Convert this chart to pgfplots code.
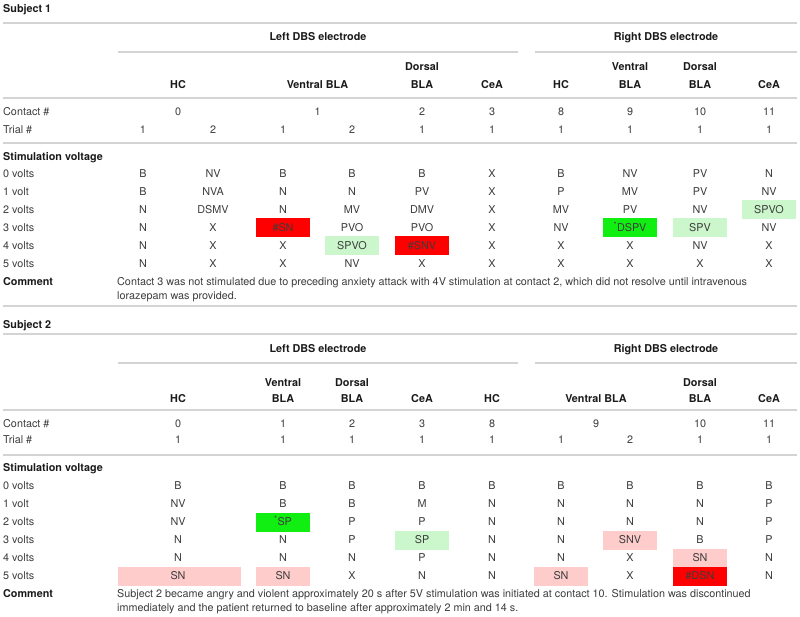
\documentclass[border=0pt]{standalone}
\usepackage{fontspec}
\setmainfont{TeX Gyre Heros}
\usepackage{pgfplots}
\pgfplotsset{compat=1.18}
\definecolor{txtc}{HTML}{3C3C3C}
\definecolor{boldc}{HTML}{1A1A1A}
\definecolor{rulec}{HTML}{D4D4D4}
\definecolor{cred}{HTML}{FF0000}
\definecolor{cgreen}{HTML}{11EE11}
\definecolor{clgreen}{HTML}{CCF7CC}
\definecolor{cpink}{HTML}{FFCCCC}
\newcommand\fsz{\fontsize{10.8}{12}\selectfont}
\pgfplotsset{
  celltxt/.style={draw=none, mark=none, nodes near coords, point meta=explicit symbolic,
    nodes near coords align={anchor=center},
    every node near coord/.style={anchor=center, inner sep=0pt, text height=7.8pt, text depth=0pt, font=\fsz, text=txtc}},
  cellbold/.style={celltxt, every node near coord/.append style={font=\fsz\bfseries, text=boldc}},
  lefttxt/.style={draw=none, mark=none, nodes near coords, point meta=explicit symbolic,
    nodes near coords align={anchor=west},
    every node near coord/.style={anchor=west, inner sep=0pt, text height=7.8pt, text depth=0pt, font=\fsz, text=txtc}},
  leftbold/.style={lefttxt, every node near coord/.append style={font=\fsz\bfseries, text=boldc}},
  rule/.style={draw=rulec, line width=1.6pt, mark=none},
  box/.style={draw=none, mark=none, fill=#1},
}
\begin{document}
\begin{tikzpicture}
\begin{axis}[width=800pt, height=617pt, scale only axis,
  xmin=0, xmax=800, ymin=0, ymax=617, y dir=reverse,
  hide axis, clip=false]
\addplot[draw=none, mark=none] coordinates {(0,0) (800,617)};

% ---------------- coloured cells ----------------
% Subject 1
\addplot[box=cred]    coordinates {(256,218.5) (310,218.5) (310,237.5) (256,237.5)} -- cycle;
\addplot[box=clgreen] coordinates {(325,236.5) (379,236.5) (379,255.5) (325,255.5)} -- cycle;
\addplot[box=cred]    coordinates {(395,236.5) (449,236.5) (449,255.5) (395,255.5)} -- cycle;
\addplot[box=cgreen]  coordinates {(603,218.5) (657,218.5) (657,237.5) (603,237.5)} -- cycle;
\addplot[box=clgreen] coordinates {(673,218.5) (727,218.5) (727,237.5) (673,237.5)} -- cycle;
\addplot[box=clgreen] coordinates {(742,200.5) (796,200.5) (796,219.5) (742,219.5)} -- cycle;
% Subject 2
\addplot[box=cgreen]  coordinates {(256,512.5) (310,512.5) (310,531.5) (256,531.5)} -- cycle;
\addplot[box=clgreen] coordinates {(395,530.5) (449,530.5) (449,549.5) (395,549.5)} -- cycle;
\addplot[box=cpink]   coordinates {(603,530.5) (657,530.5) (657,549.5) (603,549.5)} -- cycle;
\addplot[box=cpink]   coordinates {(673,548.5) (727,548.5) (727,567.5) (673,567.5)} -- cycle;
\addplot[box=cpink]   coordinates {(118,566.5) (241,566.5) (241,585.5) (118,585.5)} -- cycle;
\addplot[box=cpink]   coordinates {(256,566.5) (310,566.5) (310,585.5) (256,585.5)} -- cycle;
\addplot[box=cpink]   coordinates {(534,566.5) (588,566.5) (588,585.5) (534,585.5)} -- cycle;
\addplot[box=cred]    coordinates {(673,566.5) (727,566.5) (727,585.5) (673,585.5)} -- cycle;

% ---------------- rules ----------------
\addplot[rule] coordinates {(3,23) (797,23)};
\addplot[rule] coordinates {(118,52) (518,52)};
\addplot[rule] coordinates {(535,52) (797,52)};
\addplot[rule] coordinates {(3,98) (797,98)};
\addplot[rule] coordinates {(3,143) (797,143)};
\addplot[rule] coordinates {(3,306) (797,306)};
\addplot[rule] coordinates {(3,334) (797,334)};
\addplot[rule] coordinates {(118,363) (518,363)};
\addplot[rule] coordinates {(535,363) (797,363)};
\addplot[rule] coordinates {(3,410) (797,410)};
\addplot[rule] coordinates {(3,455) (797,455)};

% ---------------- left column ----------------
\addplot[leftbold] table[row sep=\\, col sep=semicolon, meta=t] {
x;y;t\\
3;9;Subject 1\\
3;157;Stimulation voltage\\
3;282;Comment\\
3;325;Subject 2\\
3;468;Stimulation voltage\\
3;594;Comment\\
};
\addplot[lefttxt] table[row sep=\\, col sep=semicolon, meta=t] {
x;y;t\\
3;112;Contact \#\\
3;130;Trial \#\\
3;174;0 volts\\
3;192;1 volt\\
3;210;2 volts\\
3;228;3 volts\\
3;246;4 volts\\
3;264;5 volts\\
3;424;Contact \#\\
3;440;Trial \#\\
3;486;0 volts\\
3;504;1 volt\\
3;522;2 volts\\
3;540;3 volts\\
3;558;4 volts\\
3;576;5 volts\\
117;282;Contact 3 was not stimulated due to preceding anxiety attack with 4V stimulation at contact 2, which did not resolve until intravenous\\
117;296;lorazepam was provided.\\
117;594;Subject 2 became angry and violent approximately 20 s after 5V stimulation was initiated at contact 10. Stimulation was discontinued\\
117;608;immediately and the patient returned to baseline after approximately 2 min and 14 s.\\
};

% ---------------- headers ----------------
\addplot[cellbold] table[row sep=\\, col sep=semicolon, meta=t] {
x;y;t\\
318;37;Left DBS electrode\\
666;37;Right DBS electrode\\
178;85;HC\\
317.5;85;Ventral BLA\\
422;67;Dorsal\\
422;85;BLA\\
492;85;CeA\\
561;85;HC\\
630;67;Ventral\\
630;85;BLA\\
700;67;Dorsal\\
700;85;BLA\\
769;85;CeA\\
318;349;Left DBS electrode\\
666;349;Right DBS electrode\\
178;399;HC\\
283;383;Ventral\\
283;399;BLA\\
352;383;Dorsal\\
352;399;BLA\\
422;399;CeA\\
492;399;HC\\
596;399;Ventral BLA\\
700;383;Dorsal\\
700;399;BLA\\
769;399;CeA\\
};

% ---------------- Subject 1 body ----------------
\addplot[celltxt] table[row sep=\\, col sep=semicolon, meta=t] {
x;y;t\\
178;112;0\\ 317.5;112;1\\ 422;112;2\\ 492;112;3\\ 561;112;8\\ 630;112;9\\ 700;112;10\\ 769;112;11\\
143;130;1\\ 213;130;2\\ 283;130;1\\ 352;130;2\\ 422;130;1\\ 492;130;1\\ 561;130;1\\ 630;130;1\\ 700;130;1\\ 769;130;1\\
143;174;B\\ 213;174;NV\\ 283;174;B\\ 352;174;B\\ 422;174;B\\ 492;174;X\\ 561;174;B\\ 630;174;NV\\ 700;174;PV\\ 769;174;N\\
143;192;B\\ 213;192;NVA\\ 283;192;N\\ 352;192;N\\ 422;192;PV\\ 492;192;X\\ 561;192;P\\ 630;192;MV\\ 700;192;PV\\ 769;192;NV\\
143;210;N\\ 213;210;DSMV\\ 283;210;N\\ 352;210;MV\\ 422;210;DMV\\ 492;210;X\\ 561;210;MV\\ 630;210;PV\\ 700;210;NV\\ 769;210;SPVO\\
143;228;N\\ 213;228;X\\ 283;228;\#SN\\ 352;228;PVO\\ 422;228;PVO\\ 492;228;X\\ 561;228;NV\\ 630;228;\textsuperscript{*}DSPV\\ 700;228;SPV\\ 769;228;NV\\
143;246;N\\ 213;246;X\\ 283;246;X\\ 352;246;SPVO\\ 422;246;\#SNV\\ 492;246;X\\ 561;246;X\\ 630;246;X\\ 700;246;NV\\ 769;246;X\\
143;264;N\\ 213;264;X\\ 283;264;X\\ 352;264;NV\\ 422;264;X\\ 492;264;X\\ 561;264;X\\ 630;264;X\\ 700;264;X\\ 769;264;X\\
};

% ---------------- Subject 2 body ----------------
\addplot[celltxt] table[row sep=\\, col sep=semicolon, meta=t] {
x;y;t\\
178;424;0\\ 283;424;1\\ 352;424;2\\ 422;424;3\\ 492;424;8\\ 596;424;9\\ 700;424;10\\ 769;424;11\\
178;440;1\\ 283;440;1\\ 352;440;1\\ 422;440;1\\ 492;440;1\\ 561;440;1\\ 630;440;2\\ 700;440;1\\ 769;440;1\\
178;486;B\\ 283;486;B\\ 352;486;B\\ 422;486;B\\ 492;486;B\\ 561;486;B\\ 630;486;B\\ 700;486;B\\ 769;486;B\\
178;504;NV\\ 283;504;B\\ 352;504;B\\ 422;504;M\\ 492;504;N\\ 561;504;N\\ 630;504;N\\ 700;504;N\\ 769;504;P\\
178;522;NV\\ 283;522;\textsuperscript{*}SP\\ 352;522;P\\ 422;522;P\\ 492;522;N\\ 561;522;N\\ 630;522;N\\ 700;522;N\\ 769;522;P\\
178;540;N\\ 283;540;N\\ 352;540;P\\ 422;540;SP\\ 492;540;N\\ 561;540;N\\ 630;540;SNV\\ 700;540;B\\ 769;540;P\\
178;558;N\\ 283;558;N\\ 352;558;N\\ 422;558;P\\ 492;558;N\\ 561;558;N\\ 630;558;X\\ 700;558;SN\\ 769;558;N\\
178;576;SN\\ 283;576;SN\\ 352;576;X\\ 422;576;N\\ 492;576;N\\ 561;576;SN\\ 630;576;X\\ 700;576;\#DSN\\ 769;576;N\\
};
\end{axis}
\end{tikzpicture}
\end{document}
